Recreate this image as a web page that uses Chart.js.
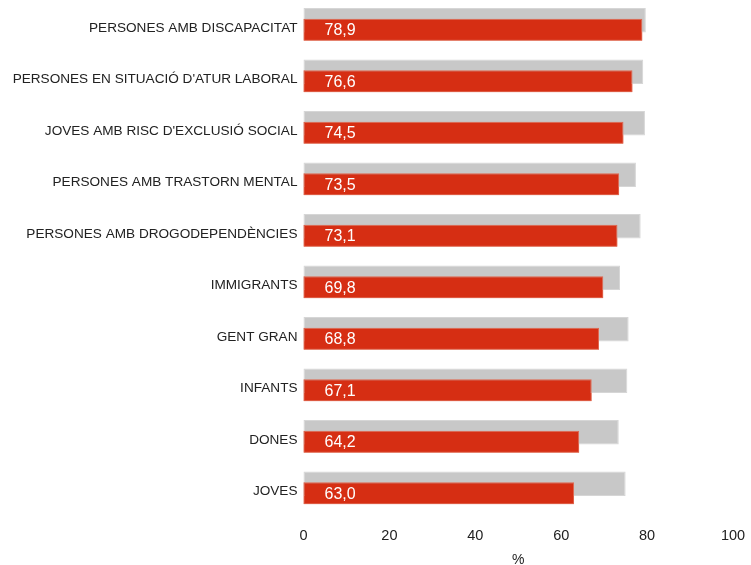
<!DOCTYPE html>
<html>
<head>
<meta charset="utf-8">
<script src="https://cdn.jsdelivr.net/npm/chart.js@4"></script>
<style>
  html, body { margin: 0; padding: 0; background: #fff; }
  #wrap { width: 751px; height: 565px; }
</style>
</head>
<body>
<div id="wrap"><canvas id="barChart" width="751" height="565"></canvas></div>
<script>
const categories = [
    'PERSONES AMB DISCAPACITAT',
    "PERSONES EN SITUACIÓ D'ATUR LABORAL",
    "JOVES AMB RISC D'EXCLUSIÓ SOCIAL",
    'PERSONES AMB TRASTORN MENTAL',
    'PERSONES AMB DROGODEPENDÈNCIES',
    'IMMIGRANTS',
    'GENT GRAN',
    'INFANTS',
    'DONES',
    'JOVES'
];
// grey bars (no label in the picture)
const referenceValues = [79.7, 79.1, 79.5, 77.4, 78.5, 73.7, 75.7, 75.4, 73.4, 75.0];
// red bars
const currentValues = [78.9, 76.6, 74.5, 73.5, 73.1, 69.8, 68.8, 67.1, 64.2, 63.0];
const xTicks = [0, 20, 40, 60, 80, 100];

const FONT = '"Liberation Sans", Arial, sans-serif';

// red bars must sit over the grey ones, plus the white value labels
const redOnTop = {
    id: 'redOnTop',
    afterDatasetsDraw(chart) {
        const meta = chart.getDatasetMeta(1);
        meta.controller.draw();
        const ctx = chart.ctx;
        ctx.save();
        ctx.font = '16px ' + FONT;
        ctx.fillStyle = '#ffffff';
        ctx.textBaseline = 'middle';
        ctx.textAlign = 'left';
        meta.data.forEach((bar, i) => {
            ctx.fillText(currentValues[i].toFixed(1).replace('.', ','), bar.base + 21, bar.y + 1);
        });
        ctx.restore();
    }
};

const ctx = document.getElementById('barChart').getContext('2d');
new Chart(ctx, {
    type: 'bar',
    data: {
        labels: categories,
        datasets: [
            {
                label: 'ref',
                data: referenceValues,
                backgroundColor: '#c8c8c8',
                borderColor: '#d6d6d6',
                borderWidth: 1,
                borderSkipped: false,
                categoryPercentage: 0.37,
                barPercentage: 2.55,
                clip: false
            },
            {
                label: 'valor',
                data: currentValues,
                backgroundColor: '#d62e13',
                borderColor: '#e0674f',
                borderWidth: 1,
                borderSkipped: false,
                categoryPercentage: 0.37,
                barPercentage: 2.33,
                clip: false
            }
        ]
    },
    options: {
        indexAxis: 'y',
        responsive: false,
        animation: false,
        layout: { padding: { top: 25, right: 18, left: 0, bottom: 0 } },
        plugins: {
            legend: { display: false },
            tooltip: { enabled: false }
        },
        scales: {
            x: {
                min: 0,
                max: 100,
                grid: { display: false, drawTicks: false },
                border: { display: false },
                ticks: {
                    stepSize: 20,
                    padding: 39,
                    color: '#222',
                    font: { family: FONT, size: 14.5 },
                    callback: v => xTicks.includes(v) ? v : ''
                },
                title: {
                    display: true,
                    text: '%',
                    color: '#222',
                    font: { family: FONT, size: 14 },
                    padding: { top: 0, bottom: -4 }
                },
                afterFit: scale => {
                    scale.height = 76.5;
                    scale.paddingLeft = 0;
                    scale.paddingRight = 0;
                }
            },
            y: {
                offset: false,
                grid: { display: false, drawTicks: false },
                border: { display: false },
                ticks: {
                    padding: 6,
                    labelOffset: 3,
                    color: '#222',
                    font: { family: FONT, size: 13.6 }
                },
                afterFit: scale => { scale.width = 303.5; }
            }
        }
    },
    plugins: [redOnTop]
});
</script>
</body>
</html>
